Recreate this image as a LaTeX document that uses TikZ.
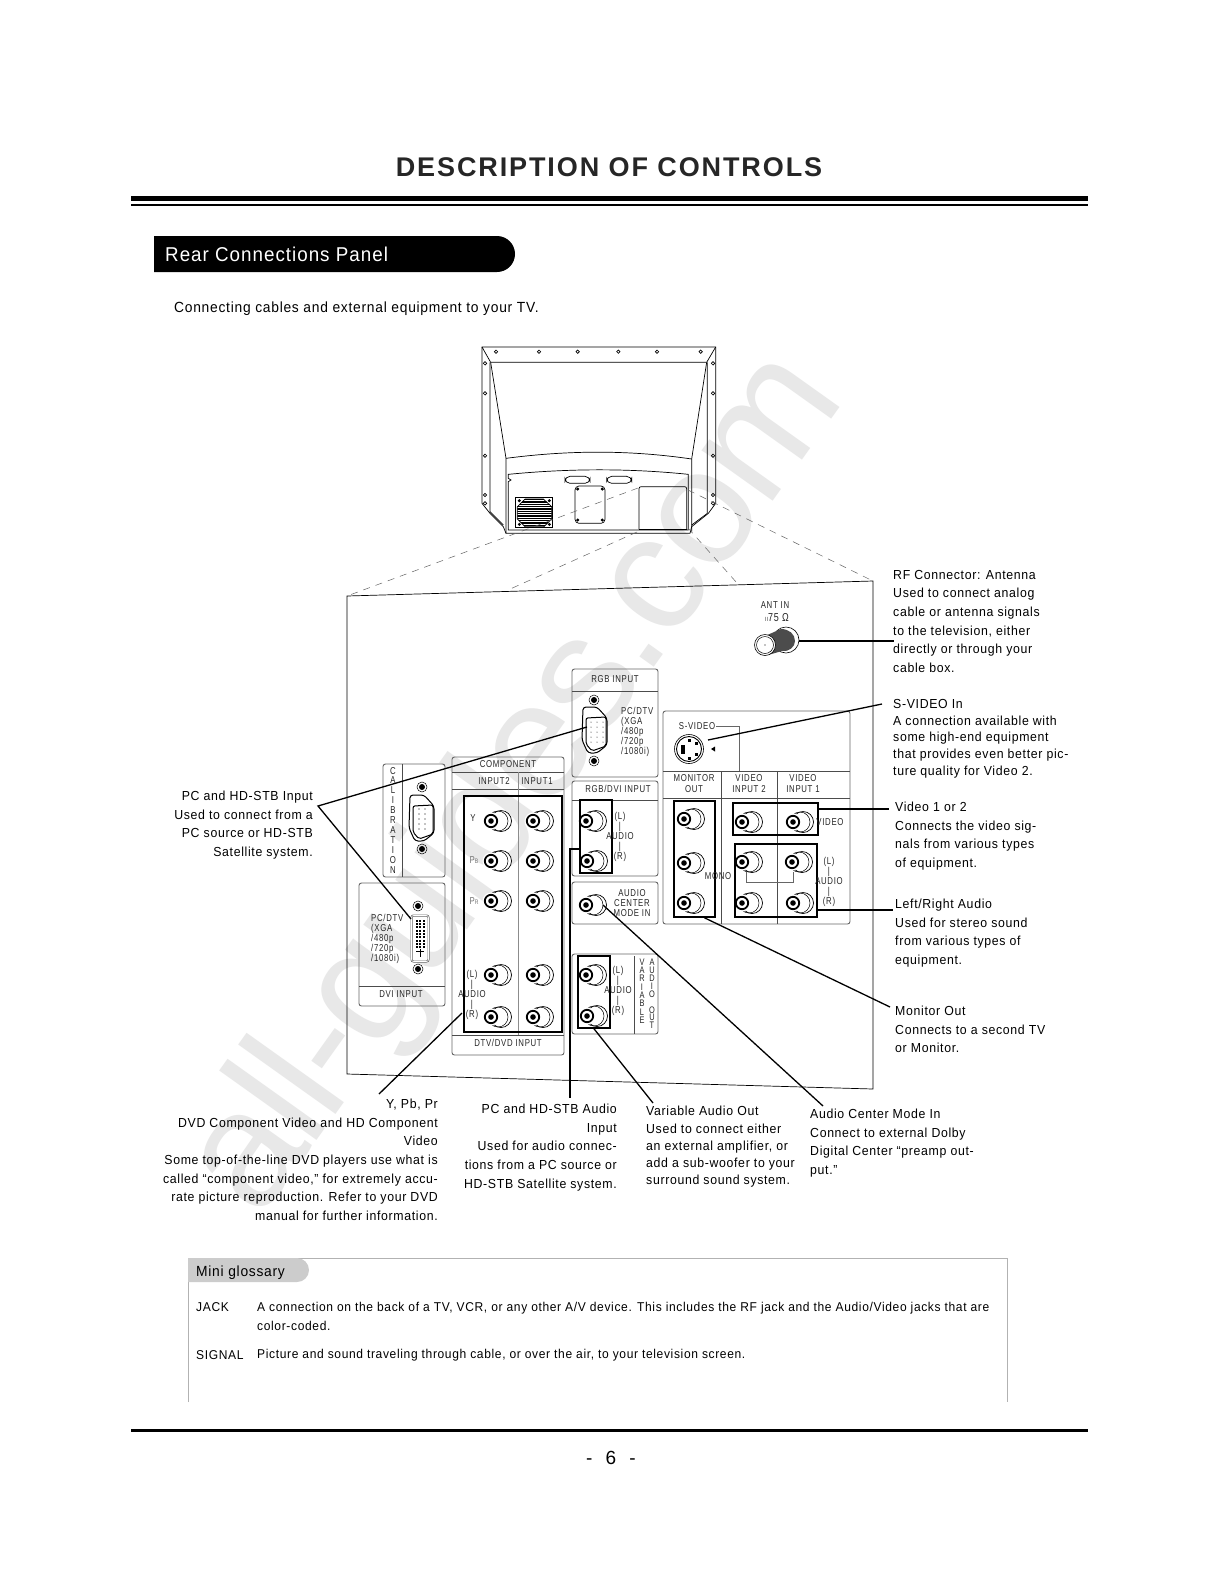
\documentclass[tikz,border=0pt]{standalone}
\usepackage{fontspec}
\usepackage{tikz}
\usetikzlibrary{positioning, arrows.meta}
\setmainfont{Liberation Sans}
\newfontfamily\bodyfam[LetterSpace=5,FakeStretch=0.94]{Liberation Sans}
\newfontfamily\panelfam[LetterSpace=7,FakeStretch=0.78]{Liberation Sans}
\newfontfamily\titlefam[LetterSpace=7]{Liberation Sans}
\newfontfamily\markfam[LetterSpace=-2.5]{Liberation Sans}

\tikzset{
  rca/.pic={
    \draw[line width=0.7pt, fill=white] (10,0) circle [radius=10.5pt];
    \draw[line width=0.5pt] (7,0) circle [radius=10pt];
    \fill[white] (0,0) circle [radius=8.5pt];
    \draw[line width=1.8pt] (0,0) circle [radius=6.2pt];
    \fill (0,0) circle [radius=2.8pt];
  },
  screw/.pic={
    \draw[line width=0.5pt] (0,0) circle [radius=5pt];
    \fill (0,0) circle [radius=3pt];
  },
  dsub/.pic={
    \draw[line width=1pt, rounded corners=3pt, fill=white]
      (-11,-23) -- (3,-23) -- (13,-12) -- (13,15) -- (3,23) -- (-6,23) -- (-12,10) -- cycle;
    \draw[line width=1pt, rounded corners=2pt]
      (-8,-12) -- (12,-13) -- (12,16) -- (-2,21) -- (-8,14) -- cycle;
  },
}

\begin{document}
\begin{tikzpicture}[
    x=1pt, y=-1pt,
    bodytext/.style={font=\bodyfam\fontsize{13.1}{18.6}\selectfont, inner sep=0pt, align=left, anchor=north west},
    bodyright/.style={bodytext, align=right, anchor=north east},
    glosstext/.style={bodytext, font=\bodyfam\fontsize{12.8}{18.6}\selectfont},
    paneltext/.style={font=\panelfam\fontsize{10}{10}\selectfont, inner sep=0pt, align=center, text=black!85},
    panelbox/.style={draw=black!60, line width=0.9pt, rounded corners=2.5pt, inner sep=0pt},
    divider/.style={black!70, line width=0.8pt},
    jackframe/.style={draw=black, line width=1.6pt, inner sep=0pt},
    leader/.style={black, line width=1.3pt},
    zoomline/.style={black!60, line width=0.5pt, dash pattern=on 7pt off 6pt},
  ]
  \useasboundingbox (0,0) rectangle (1220,1583);
  \fill[white] (0,0) rectangle (1220,1583);

  % --- watermark ---
  \node[font=\markfam\fontsize{165}{165}\selectfont, text=black!9, rotate=54.5, inner sep=0pt] (mark) at (518,785) {all-guides.com};

  % --- page head ---
  \node[font=\titlefam\bfseries\fontsize{27}{27}\selectfont, text=black!85, inner sep=0pt] (title) at (609,167) {DESCRIPTION OF CONTROLS};
  \draw[line width=5pt] (131,198) -- (1088,198);
  \draw[line width=1.3pt] (131,205) -- (1088,205);

  \fill[black] (154,272) -- (154,236) [rounded corners=18pt] -- (515,236) -- (515,272) [sharp corners] -- cycle;
  \node[font=\bodyfam\fontsize{20}{20}\selectfont, text=white, inner sep=0pt, anchor=west] (banner) at (165,254) {Rear Connections Panel};
  \node[bodytext, anchor=west, font=\bodyfam\fontsize{14.7}{18}\selectfont] (intro) at (174,309) {Connecting cables and external equipment to your TV.};

  % --- TV set ---
  \begin{scope}[shift={(470,335)}, scale=1/3, line width=0.7pt]
    \draw (36,36) -- (737,36) -- (737,505) -- (715,535) -- (665,575) -- (660,595)
      -- (108,595) -- (100,575) -- (60,535) -- (36,505) -- cycle;
    \draw (36,36) -- (62,82) -- (710,82) -- (737,36);
    \draw (60,82) -- (60,530) -- (100,570);
    \draw (712,82) -- (712,535) -- (665,570);
    \draw (62,82) -- (108,370) -- (108,595);
    \draw (710,82) -- (665,372) -- (665,590);
    \draw (108,370) .. controls (300,345) and (480,345) .. (665,372);
    \draw (115,585) -- (115,440) -- (123,435) -- (115,430) -- (115,418)
      .. controls (300,400) and (480,400) .. (655,418) -- (655,585) -- cycle;
    \foreach \sx in {78,207,323,445,561,692}
      \draw (\sx,50) circle [radius=5pt];
    \foreach \sy in {85,175,362,480,505} {
      \draw (45,\sy) circle [radius=5pt];
      \draw (729,\sy) circle [radius=5pt];
    }
    % fan
    \draw (137,488) rectangle (248,578);
    \begin{scope}
      \clip (165,492) -- (220,492) -- (245,515) -- (245,552) -- (222,575) -- (165,575) -- (142,552) -- (142,515) -- cycle;
      \foreach \fy in {494,501,...,575}
        \draw[line width=1.1pt] (137,\fy) -- (248,\fy);
    \end{scope}
    \draw (165,492) -- (220,492) -- (245,515) -- (245,552) -- (222,575) -- (165,575) -- (142,552) -- (142,515) -- cycle;
    \foreach \fx/\fy in {148/497,238/497,148/568,238/568,323/462,397/462,323/555,397/555}
      \fill (\fx,\fy) circle [radius=5pt];
    \draw[rounded corners=4pt] (315,453) rectangle (405,565);
    \draw[rounded corners=5pt] (285,424) rectangle (360,445);
    \draw[rounded corners=5pt] (410,424) rectangle (485,445);
    \draw[rounded corners=2pt] (507,583) -- (507,455) -- (650,455) -- (650,583);
    \draw[line width=1.6pt] (507,583) -- (650,583);
  \end{scope}

  % --- rear panel ---
  \coordinate (panelnw) at (347,596);
  \coordinate (panelne) at (873,581);
  \coordinate (panelse) at (873,1089);
  \coordinate (panelsw) at (347,1074);
  \draw[line width=0.7pt] (panelnw) -- (panelne) -- (panelse) -- (panelsw) -- cycle;

  % --- dashed lines from TV to panel ---
  \coordinate (tvone) at (638,488);
  \coordinate (tvtwo) at (637,532);
  \coordinate (tvthree) at (688,490);
  \coordinate (tvfour) at (688,528);
  \coordinate (paneltwo) at (508,590);
  \coordinate (panelfour) at (737,583);
  \draw[zoomline] (tvone) -- (panelnw);
  \draw[zoomline] (tvtwo) -- (paneltwo);
  \draw[zoomline] (tvthree) -- (panelne);
  \draw[zoomline] (tvfour) -- (panelfour);

  % --- antenna ---
  \node[paneltext] (anttext) at (775,605) {ANT IN};
  \node[paneltext, font=\panelfam\fontsize{11.5}{10}\selectfont] (ohmtext) at (777,618) {{\fontsize{6}{6}\selectfont II}75 Ω};
  \draw[line width=0.6pt, fill=white] (786,640) circle [radius=13pt];
  \fill[black!70] (765,636) -- (781,629) .. controls (789,629) and (795,634) .. (795,641)
    .. controls (795,647) and (789,652) .. (782,651) -- (768,655) -- cycle;
  \draw[line width=0.6pt, fill=white] (765,645) circle [radius=10.5pt];
  \draw[line width=0.5pt] (765,645) circle [radius=8.5pt];
  \fill (765,645) circle [radius=0.7pt];
  \coordinate (antend) at (799,641);

  % --- RGB input ---
  \node[panelbox, minimum width=86pt, minimum height=108pt] (rgbbox) at (615,723) {};
  \draw[divider] (572,691) -- (658,691);
  \node[paneltext] (rgbtext) at (615,679) {RGB INPUT};
  \pic at (594,700) {screw};
  \pic at (594,761) {screw};
  \pic at (594,730) {dsub};
  \foreach \dx in {-3,3,9}
    \foreach \dy in {-8,-3,2,7,12}
      \fill (594+\dx,730+\dy) circle [radius=0.5pt];
  \node[paneltext, align=left, anchor=north west] (rgbmodes) at (621,707) {PC/DTV\\(XGA\\/480p\\/720p\\/1080i)};
  \coordinate (rgbend) at (587,727);

  % --- calibration ---
  \node[panelbox, minimum width=62pt, minimum height=113pt] (calbox) at (414,820.5) {};
  \draw[divider] (402,764) -- (402,877);
  \node[paneltext, font=\panelfam\fontsize{10}{9.9}\selectfont] (caltext) at (393,820) {C\\A\\L\\I\\B\\R\\A\\T\\I\\O\\N};
  \pic at (422,787) {screw};
  \pic at (422,849) {screw};
  \pic at (421,818) {dsub};
  \foreach \dx in {-2,4}
    \foreach \dy in {-9,-4,1,6,11}
      \fill (421+\dx,818+\dy) circle [radius=0.6pt];

  % --- DVI input ---
  \node[panelbox, minimum width=86pt, minimum height=123pt] (dvibox) at (402,944.5) {};
  \draw[divider] (359,986) -- (445,986);
  \node[paneltext] (dvitext) at (401,994) {DVI INPUT};
  \pic at (418,906) {screw};
  \pic at (418,969) {screw};
  \node[paneltext, align=left, anchor=north west] (dvimodes) at (371,914) {PC/DTV\\(XGA\\/480p\\/720p\\/1080i)};
  \node[draw=black!60, double=white, line width=0.7pt, rounded corners=2pt, minimum width=17pt, minimum height=46pt, inner sep=0pt, fill=white] (dviport) at (420,938.5) {};
  \foreach \dx in {-3.5,0,3.5}
    \foreach \dy in {-18,-15,-12,-8,-5,-2,2,5,8}
      \fill (420+\dx-1,938.5+\dy-1) rectangle ++(2,2);
  \fill (419.5,949) rectangle (420.5,957);
  \fill (416,951) rectangle (424,952);
  \coordinate (dviend) at (411,919);

  % --- component input ---
  \node[panelbox, minimum width=112pt, minimum height=298pt] (compbox) at (508,906) {};
  \draw[divider] (452,772) -- (564,772);
  \draw[divider] (452,789) -- (564,789);
  \draw[divider] (452,1035) -- (564,1035);
  \draw[black!45, line width=1pt] (518,772) -- (518,1035);
  \node[paneltext] (comptext) at (508,764) {COMPONENT};
  \node[paneltext] (inputtwo) at (494,781) {INPUT2};
  \node[paneltext] (inputone) at (537,781) {INPUT1};
  \node[jackframe, minimum width=98pt, minimum height=236pt] (compframe) at (513,914) {};
  \foreach \jy in {821,861,901,975,1017} {
    \pic at (491,\jy) {rca};
    \pic at (533,\jy) {rca};
  }
  \node[paneltext] (ytext) at (473,818) {Y};
  \node[paneltext, text=black!55] (pbtext) at (474,860) {P{\fontsize{6.5}{6}\selectfont B}};
  \node[paneltext, text=black!55] (prtext) at (474,901) {P{\fontsize{6.5}{6}\selectfont R}};
  \node[paneltext] (compaudio) at (472,995) {(L)\\|\\AUDIO\\|\\(R)};
  \node[paneltext] (dtvtext) at (508,1043) {DTV/DVD INPUT};
  \coordinate (compend) at (462,1013);

  % --- RGB/DVI audio ---
  \node[panelbox, minimum width=86pt, minimum height=95pt] (rgbdvibox) at (615,828.5) {};
  \draw[divider] (572,800) -- (658,800);
  \node[paneltext] (rgbdvitext) at (618,789) {RGB/DVI INPUT};
  \pic at (586,821) {rca};
  \pic at (587,861) {rca};
  \node[jackframe, minimum width=32pt, minimum height=73pt] (rgbframe) at (596,836.5) {};
  \node[paneltext] (rgbaudio) at (620,837) {(L)\\|\\AUDIO\\|\\(R)};

  % --- audio center mode ---
  \node[panelbox, minimum width=86pt, minimum height=42pt] (centerbox) at (615,903) {};
  \pic at (586,905) {rca};
  \node[paneltext] (centertext) at (632,903) {AUDIO\\CENTER\\MODE IN};
  \coordinate (centerend) at (603,905);

  % --- variable audio out ---
  \node[panelbox, minimum width=86pt, minimum height=80pt] (varbox) at (615,994) {};
  \draw[divider] (634,956) -- (634,1034);
  \pic at (586,975) {rca};
  \pic at (587,1016) {rca};
  \node[jackframe, minimum width=32pt, minimum height=72pt] (varframe) at (594,992) {};
  \node[paneltext] (varaudio) at (618,991) {(L)\\|\\AUDIO\\|\\(R)};
  \node[paneltext, font=\panelfam\fontsize{9.5}{8.3}\selectfont] (vartext) at (642,991) {V\\A\\R\\I\\A\\B\\L\\E};
  \node[paneltext, font=\panelfam\fontsize{9.5}{7.9}\selectfont] (outtext) at (652,994) {A\\U\\D\\I\\O\\[7.9pt]O\\U\\T};

  % --- S-video, monitor, video inputs ---
  \node[panelbox, minimum width=187pt, minimum height=213pt] (videobox) at (756.5,817.5) {};
  \draw[divider] (663,771) -- (850,771);
  \draw[divider] (663,798) -- (850,798);
  \draw[divider] (721,771) -- (721,924);
  \draw[divider] (777,771) -- (777,924);
  \node[paneltext, inner sep=1pt] (svidtext) at (697,726) {S-VIDEO};
  \draw[black!60, line width=0.8pt] (svidtext.east) -- (739,726) -- (739,771);
  \draw[line width=0.6pt] (689,749) circle [radius=14.5pt];
  \draw[line width=0.9pt] (689,749) circle [radius=12.5pt];
  \fill (681,745) rectangle (685,754);
  \foreach \dx/\dy in {0/-9,7/-6,7/5,0/9}
    \fill (689+\dx-1.5,749+\dy-1.5) rectangle ++(3,3);
  \fill (711,749) -- (715,746.5) -- (715,751.5) -- cycle;
  \coordinate (svidend) at (708,740);
  \node[paneltext] (montext) at (694,783.5) {MONITOR\\[1.5pt]OUT};
  \node[paneltext] (vidtwo) at (749,783.5) {VIDEO\\[1.5pt]INPUT 2};
  \node[paneltext] (vidone) at (803,783.5) {VIDEO\\[1.5pt]INPUT 1};
  \foreach \jy in {819,863,903}
    \pic at (684,\jy) {rca};
  \node[jackframe, minimum width=41pt, minimum height=116pt] (monframe) at (694.5,859) {};
  \node[paneltext] (monotext) at (718,876) {MONO};
  \foreach \jx/\jy in {742/822,793/822,742/862,792/862,742/903,793/903}
    \pic at (\jx,\jy) {rca};
  \node[jackframe, minimum width=85pt, minimum height=32pt] (vidframe) at (775.5,819) {};
  \node[jackframe, minimum width=82pt, minimum height=73pt] (audframe) at (776,880.5) {};
  \draw[black!60, line width=0.8pt] (746,872) -- (746,882) -- (793,882) -- (793,872);
  \node[paneltext] (vidword) at (830,822) {VIDEO};
  \node[paneltext] (vidaudio) at (829,882) {(L)\\|\\AUDIO\\|\\(R)};

  % --- callouts, right side ---
  \node[bodytext] (rftext) at (893,570) {RF Connector: Antenna\\Used to connect analog\\cable or antenna signals\\to the television, either\\directly or through your\\cable box.};
  \node[bodytext, font=\bodyfam\fontsize{13.1}{16.8}\selectfont] (svidnote) at (893,699) {S-VIDEO In\\A connection available with\\some high-end equipment\\that provides even better pic-\\ture quality for Video 2.};
  \node[bodytext] (vidnote) at (895,802) {Video 1 or 2\\Connects the video sig-\\nals from various types\\of equipment.};
  \node[bodytext] (lrnote) at (895,899) {Left/Right Audio\\Used for stereo sound\\from various types of\\equipment.};
  \node[bodytext] (monnote) at (895,1006) {Monitor Out\\Connects to a second TV\\or Monitor.};

  % --- callouts, left side and below ---
  \node[bodyright] (pcnote) at (313,791) {PC and HD-STB Input\\Used to connect from a\\PC source or HD-STB\\Satellite system.};
  \node[bodyright] (compnote) at (438,1099) {Y, Pb, Pr\\DVD Component Video and HD Component\\Video\\Some top-of-the-line DVD players use what is\\called “component video,” for extremely accu-\\rate picture reproduction. Refer to your DVD\\manual for further information.};
  \node[bodyright] (audnote) at (617,1104) {PC and HD-STB Audio\\Input\\Used for audio connec-\\tions from a PC source or\\HD-STB Satellite system.};
  \node[bodytext, font=\bodyfam\fontsize{13.1}{17.3}\selectfont] (varnote) at (646,1106) {Variable Audio Out\\Used to connect either\\an external amplifier, or\\add a sub-woofer to your\\surround sound system.};
  \node[bodytext] (centernote) at (810,1109) {Audio Center Mode In\\Connect to external Dolby\\Digital Center “preamp out-\\put.”};

  % --- leaders ---
  \coordinate (rfend) at (894,641);
  \coordinate (svidnoteend) at (882,704);
  \coordinate (vidnoteend) at (889,809);
  \coordinate (audnoteend) at (893,910);
  \coordinate (monnoteend) at (890,1007);
  \coordinate (pcapex) at (318,806);
  \coordinate (compnoteend) at (379,1094);
  \coordinate (audbend) at (570,849);
  \coordinate (audnotetop) at (570,1098);
  \coordinate (varnotetop) at (653,1103);
  \coordinate (centernotetop) at (823,1106);
  \draw[leader] (antend) -- (rfend);
  \draw[leader] (svidend) -- (svidnoteend);
  \draw[leader] (vidframe.east |- vidnoteend) -- (vidnoteend);
  \draw[leader] (audframe.east |- audnoteend) -- (audnoteend);
  \draw[leader] ([xshift=10pt]monframe.south) -- (monnoteend);
  \draw[leader] (rgbend) -- (pcapex) -- (dviend);
  \draw[leader] (compend) -- (compnoteend);
  \draw[leader] (rgbframe.west |- audbend) -- (audbend) -- (audnotetop);
  \draw[leader] (varframe.south) -- (varnotetop);
  \draw[leader] (centerend) -- (centernotetop);

  % --- mini glossary ---
  \draw[black!30, line width=0.7pt] (188,1402) -- (188,1258) -- (1007,1258) -- (1007,1402);
  \fill[black!20] (188,1282) -- (188,1258) [rounded corners=12pt] -- (309,1258) -- (309,1282) [sharp corners] -- cycle;
  \node[bodytext, anchor=west, font=\bodyfam\fontsize{14.7}{18}\selectfont] (glosstitle) at (196,1273) {Mini glossary};
  \node[glosstext, anchor=west] (jackterm) at (196,1307) {JACK};
  \node[glosstext, anchor=north west] (jackdef) at (257,1302) {A connection on the back of a TV, VCR, or any other A/V device. This includes the RF jack and the Audio/Video jacks that are\\color-coded.};
  \node[glosstext, anchor=west] (signalterm) at (196,1355) {SIGNAL};
  \node[glosstext, anchor=west] (signaldef) at (257,1355) {Picture and sound traveling through cable, or over the air, to your television screen.};

  % --- page foot ---
  \draw[line width=3pt] (131,1430) -- (1088,1430);
  \node[font=\titlefam\fontsize{19}{19}\selectfont, inner sep=0pt] (pagenum) at (611,1458) {-\ \ 6\ \ -};

\end{tikzpicture}
\end{document}
